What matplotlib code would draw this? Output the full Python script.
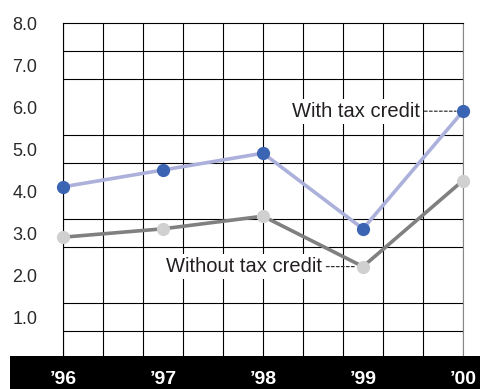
import numpy as np
import matplotlib
matplotlib.use("Agg")
import matplotlib.pyplot as plt
from matplotlib.patches import Rectangle
from matplotlib.transforms import blended_transform_factory

plt.rcParams['font.family'] = ['Liberation Sans', 'DejaVu Sans']

# data
years = [1996, 1997, 1998, 1999, 2000]
year_labels = ["\u201996", "\u201997", "\u201998", "\u201999", "\u201900"]
with_credit = [4.1, 4.5, 4.9, 3.1, 5.9]
without_credit = [2.9, 3.1, 3.4, 2.2, 4.25]
y_labels = [1, 2, 3, 4, 5, 6, 7, 8]

W, H = 480, 389
fig = plt.figure(figsize=(W / 100, H / 100), dpi=100)
ax = fig.add_axes([63 / W, 30 / H, 400 / W, 336 / H])

ax.set_xlim(years[0], years[-1])
ax.set_ylim(0, 8)

# grid: 10 columns, 12 rows
ax.set_xticks(np.linspace(years[0], years[-1], 11))
ax.set_xticklabels([])
ax.set_yticks(np.linspace(0, 8, 13), minor=True)
ax.set_yticks(y_labels)
ax.set_yticklabels([f"{v:.1f}" for v in y_labels], fontsize=13, color='#2a2a2a')
ax.tick_params(axis='both', which='both', length=0)
ax.tick_params(axis='y', pad=18.5)
ax.grid(axis='x', which='major', color='black', lw=0.8)
ax.grid(axis='y', which='minor', color='black', lw=0.8)
ax.set_axisbelow(True)
for side, sp in ax.spines.items():
    sp.set_color('black')
    sp.set_linewidth(0.8)
ax.spines['right'].set_color('#888888')

ax.plot(years, without_credit, color='#808080', lw=2.6, zorder=3,
        marker='o', ms=8.5, mfc='#d0d0d0', mec='#d0d0d0', clip_on=False)
ax.plot(years, with_credit, color='#acb1dc', lw=2.6, zorder=3,
        marker='o', ms=8.5, mfc='#3b64b3', mec='#3b64b3', clip_on=False)

box = dict(boxstyle='square,pad=0.15', fc='white', ec='none')
leader = dict(arrowstyle='-', linestyle=(0, (2.2, 1.8)), lw=0.9, color='#333333',
              shrinkA=1, shrinkB=5)
ax.annotate("With tax credit", xy=(years[-1], with_credit[-1]),
            xytext=(1999.57, with_credit[-1]), ha='right', va='center',
            fontsize=14.5, color='#231f20', bbox=box, arrowprops=leader, zorder=2)
ax.annotate("Without tax credit", xy=(years[3], without_credit[3]),
            xytext=(1998.59, without_credit[3]), ha='right', va='center',
            fontsize=14.5, color='#231f20', bbox=box, arrowprops=leader, zorder=2)

# black band with year labels
fig.add_artist(Rectangle((10 / W, 0), 1 - 10 / W, 33 / H, transform=fig.transFigure,
                         fc='black', ec='none', zorder=10))
trans = blended_transform_factory(ax.transData, fig.transFigure)
for yr, lbl in zip(years, year_labels):
    fig.text(yr, 9 / H, lbl, transform=trans, ha='center', va='center',
             fontsize=14, fontweight='bold', color='white', zorder=11)

fig.savefig("out.png", dpi=100)
